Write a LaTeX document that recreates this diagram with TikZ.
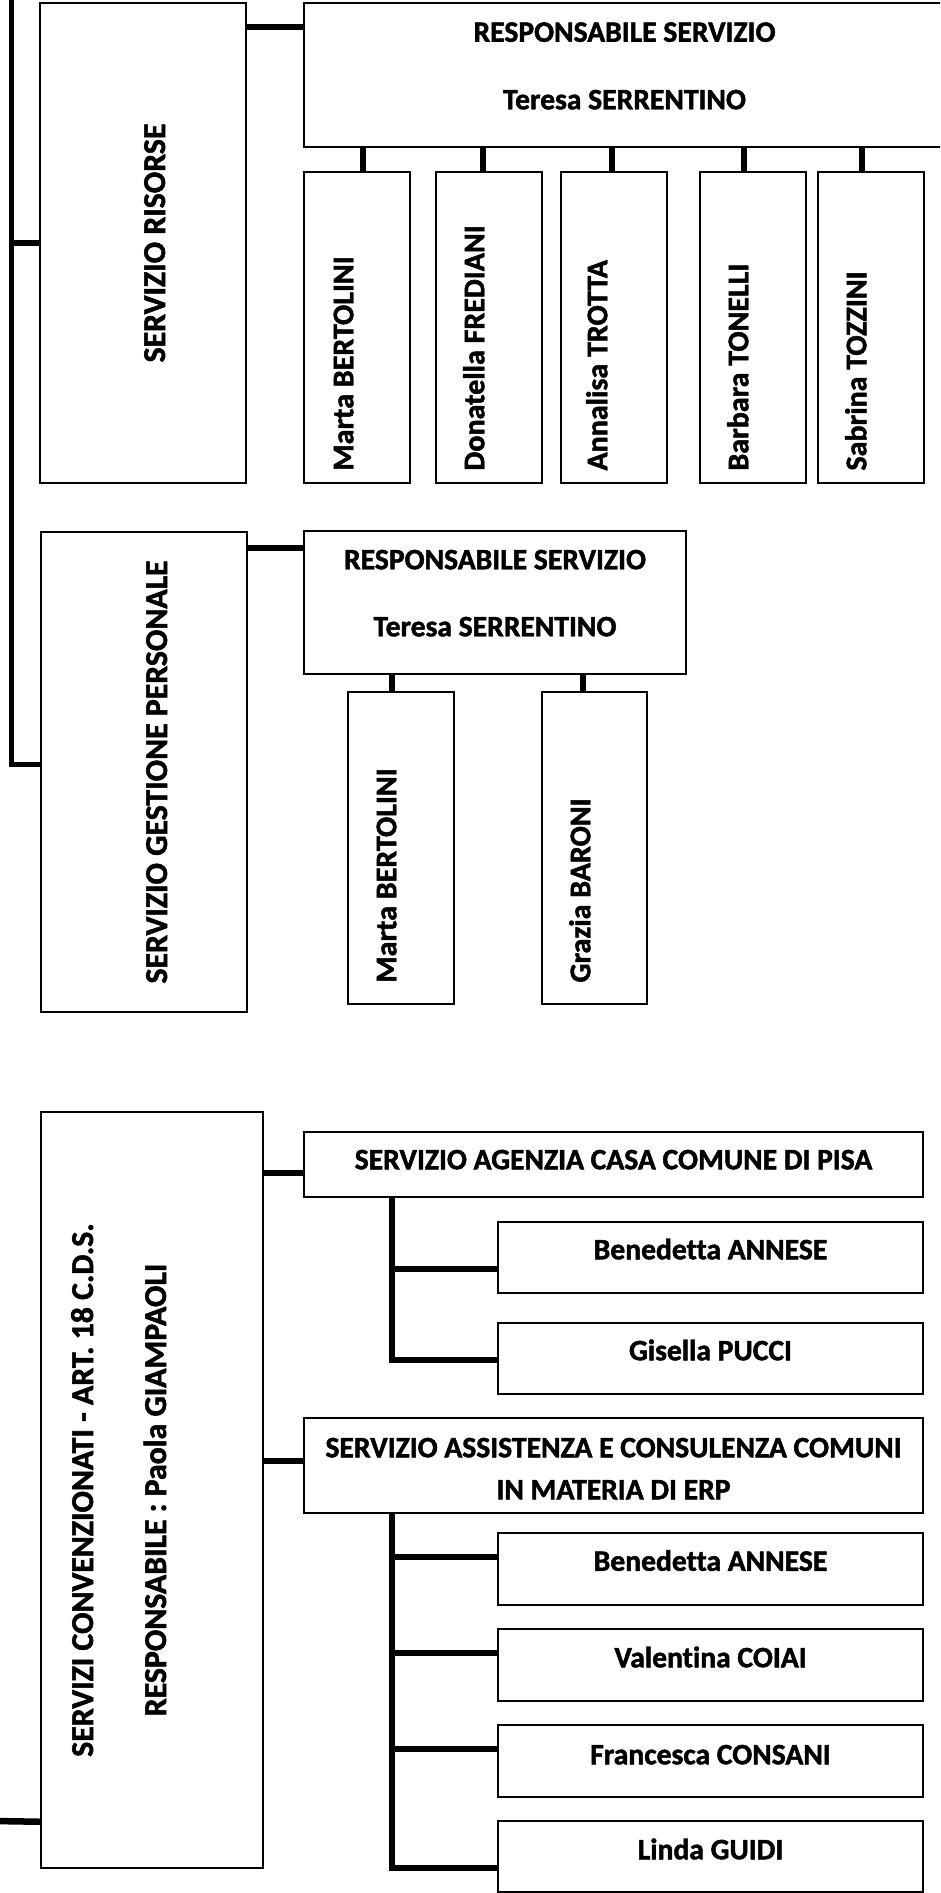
\documentclass[tikz,border=0pt]{standalone}
\usepackage{fontspec}
\setmainfont{Carlito}[Ligatures={NoCommon}, BoldFeatures={FakeBold=1.6}]
\begin{document}
\begin{tikzpicture}[x=1pt,y=-1pt,
  box/.style={draw, line width=1.5pt, inner sep=0pt, rectangle, fill=white},
  conn/.style={line width=5.5pt, line join=miter},
  txt/.style={font=\fontsize{29.6}{34}\selectfont\bfseries, inner sep=0pt, anchor=base},
  vtxt/.style={font=\fontsize{31.8}{38}\selectfont\bfseries, inner sep=0pt, anchor=base, rotate=90},
  mtxt/.style={font=\fontsize{30}{35}\selectfont\bfseries, inner sep=0pt, anchor=base west, rotate=90}]
\useasboundingbox (0,0) rectangle (940,1893);
\clip (0,0) rectangle (940,1893);

% ---------- SERVIZIO RISORSE ----------
\node[box, minimum width=206pt, minimum height=480pt] (sr) at (143,243) {};
\node[box, minimum width=641pt, minimum height=144pt] (r1) at (624.5,75) {};
\node[box, minimum width=106pt, minimum height=311pt] (m1) at (357,327.5) {};
\node[box, minimum width=106pt, minimum height=311pt] (m2) at (489,327.5) {};
\node[box, minimum width=106pt, minimum height=311pt] (m3) at (614,327.5) {};
\node[box, minimum width=106pt, minimum height=311pt] (m4) at (753,327.5) {};
\node[box, minimum width=106pt, minimum height=311pt] (m5) at (871,327.5) {};

\node[vtxt] (srt) at ([xshift=22pt]sr.center) {SERVIZIO RISORSE};
\node[txt] (r1a) at ([yshift=-39.5pt]r1.north) {RESPONSABILE SERVIZIO};
\node[txt] (r1b) at ([yshift=-107pt]r1.north) {Teresa SERRENTINO};
\node[mtxt] (m1t) at ([xshift=50pt,yshift=13pt]m1.south west) {Marta BERTOLINI};
\node[mtxt] (m2t) at ([xshift=49pt,yshift=13pt]m2.south west) {Donatella FREDIANI};
\node[mtxt] (m3t) at ([xshift=47pt,yshift=13pt]m3.south west) {Annalisa TROTTA};
\node[mtxt] (m4t) at ([xshift=49pt,yshift=13pt]m4.south west) {Barbara TONELLI};
\node[mtxt] (m5t) at ([xshift=49pt,yshift=13pt]m5.south west) {Sabrina TOZZINI};

\coordinate (c1) at ([yshift=48pt]r1.west);
\draw[conn] (c1 -| sr.east) -- (c1);
\coordinate (k1) at ([xshift=6pt]m1.north);
\coordinate (k2) at ([xshift=-6pt]m2.north);
\coordinate (k3) at ([xshift=-2pt]m3.north);
\coordinate (k4) at ([xshift=-9pt]m4.north);
\coordinate (k5) at ([xshift=-9pt]m5.north);
\foreach \k in {k1,k2,k3,k4,k5} {\draw[conn] (\k) -- (\k |- r1.south);}

% ---------- SERVIZIO GESTIONE PERSONALE ----------
\node[box, minimum width=206pt, minimum height=480pt] (sgp) at (144,772) {};
\node[box, minimum width=382pt, minimum height=143pt] (r2) at (495,602.5) {};
\node[box, minimum width=106pt, minimum height=312pt] (n1) at (401,848) {};
\node[box, minimum width=105pt, minimum height=312pt] (n2) at (594.5,848) {};

\node[vtxt] (sgpt) at ([xshift=23pt]sgp.center) {SERVIZIO GESTIONE PERSONALE};
\node[txt] (r2a) at ([yshift=-39pt]r2.north) {RESPONSABILE SERVIZIO};
\node[txt] (r2b) at ([yshift=-106pt]r2.north) {Teresa SERRENTINO};
\node[mtxt] (n1t) at ([xshift=49pt,yshift=22pt]n1.south west) {Marta BERTOLINI};
\node[mtxt] (n2t) at ([xshift=49pt,yshift=22pt]n2.south west) {Grazia BARONI};

\coordinate (c2) at ([yshift=54.5pt]r2.west);
\draw[conn] (c2 -| sgp.east) -- (c2);
\coordinate (l1) at ([xshift=-9pt]n1.north);
\coordinate (l2) at ([xshift=-11.5pt]n2.north);
\draw[conn] (l1) -- (l1 |- r2.south);
\draw[conn] (l2) -- (l2 |- r2.south);

% ---------- left bar ----------
\coordinate (bartop) at (11.7,-5);
\coordinate (c3) at ([yshift=8pt]sgp.west);
\draw[conn, line width=5pt] (bartop) |- (c3);
\draw[conn] (bartop |- sr.west) -- (sr.west);

% ---------- SERVIZI CONVENZIONATI ----------
\node[box, minimum width=222pt, minimum height=756pt] (sca) at (152,1490) {};
\node[box, minimum width=619pt, minimum height=65pt] (ag) at (613.5,1164.5) {};
\node[box, minimum width=425pt, minimum height=71pt] (ba1) at (710.5,1257.5) {};
\node[box, minimum width=425pt, minimum height=71pt] (gp) at (710.5,1358.5) {};
\node[box, minimum width=619pt, minimum height=95pt] (as) at (613.5,1465.5) {};
\node[box, minimum width=425pt, minimum height=72pt] (ba2) at (710.5,1569) {};
\node[box, minimum width=425pt, minimum height=72pt] (vc) at (710.5,1665) {};
\node[box, minimum width=425pt, minimum height=72pt] (fc) at (710.5,1761) {};
\node[box, minimum width=425pt, minimum height=71pt] (lg) at (710.5,1856.5) {};

\node[vtxt] (scat1) at ([xshift=-59pt]sca.center) {SERVIZI CONVENZIONATI - ART. 18 C.D.S.};
\node[vtxt] (scat2) at ([xshift=14pt]sca.center) {RESPONSABILE : Paola GIAMPAOLI};
\node[txt] (agt) at ([yshift=-38pt]ag.north) {SERVIZIO AGENZIA CASA COMUNE DI PISA};
\node[txt] (ba1t) at ([yshift=-38pt]ba1.north) {Benedetta ANNESE};
\node[txt] (gpt) at ([yshift=-38pt]gp.north) {Gisella PUCCI};
\node[txt] (ast1) at ([yshift=-40pt]as.north) {SERVIZIO ASSISTENZA E CONSULENZA COMUNI};
\node[txt] (ast2) at ([yshift=-82pt]as.north) {IN MATERIA DI ERP};
\node[txt] (ba2t) at ([yshift=-38.5pt]ba2.north) {Benedetta ANNESE};
\node[txt] (vct) at ([yshift=-39pt]vc.north) {Valentina COIAI};
\node[txt] (fct) at ([yshift=-40pt]fc.north) {Francesca CONSANI};
\node[txt] (lgt) at ([yshift=-39pt]lg.north) {Linda GUIDI};

\coordinate (c5) at ([yshift=-8.5pt]ag.west);
\draw[conn] (c5 -| sca.east) -- (c5);
\coordinate (c6) at ([yshift=4.5pt]as.west);
\draw[conn] (c6 -| sca.east) -- (c6);

\coordinate (t1) at ([xshift=88.5pt]ag.south west);
\coordinate (g1) at ([yshift=-11.5pt]ba1.west);
\coordinate (g2) at ([yshift=-1.5pt]gp.west);
\draw[conn] (t1) |- (g2);
\draw[conn] (t1 |- g1) -- (g1);

\coordinate (t2) at ([xshift=88.5pt]as.south west);
\coordinate (h1) at ([yshift=12pt]ba2.west);
\coordinate (h2) at ([yshift=12pt]vc.west);
\coordinate (h3) at ([yshift=12pt]fc.west);
\coordinate (h4) at ([yshift=-11.5pt]lg.west);
\draw[conn] (t2) |- (h4);
\draw[conn] (t2 |- h1) -- (h1);
\draw[conn] (t2 |- h2) -- (h2);
\draw[conn] (t2 |- h3) -- (h3);

\coordinate (c4) at ([yshift=47pt]sca.south west);
\coordinate (offl) at (-5,1821);
\draw[conn, line width=6.5pt] (offl) -- (c4);
\end{tikzpicture}
\end{document}
